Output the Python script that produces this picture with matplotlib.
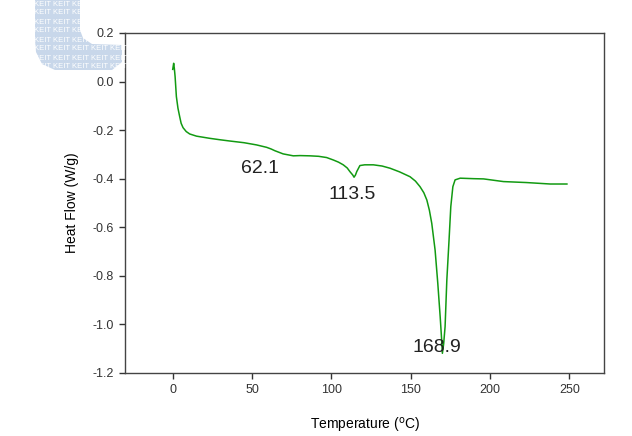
import matplotlib
matplotlib.use('Agg')
import matplotlib.pyplot as plt
from matplotlib.patches import Polygon

plt.rcParams['font.family'] = ['Liberation Sans', 'DejaVu Sans']

# DSC curve
temp = [0.0, 0.6, 1.0, 1.5, 2.3, 3.3, 4.4, 5.3, 6.5, 8.5, 10.7, 15, 23.4, 30, 36, 45,
        52.8, 59.2, 62.1, 64.4, 69.6, 76, 80.2, 86.5, 92, 97, 101.2, 104.5, 107.5, 110,
        111.7, 113.5, 114.3, 115.2, 116, 118, 121, 126.5, 132, 137, 143, 149.6, 153,
        155.9, 158.3, 160.2, 161.8, 163.3, 165.4, 167.1, 168.6, 169.5, 170.0, 170.8,
        171.7, 172.8, 174.2, 175.3, 176.6, 178, 181.2, 189.6, 196, 208.5, 223, 238, 248.5]
heat = [0.05, 0.075, 0.055, 0.02, -0.062, -0.11, -0.145, -0.172, -0.19, -0.206, -0.216,
        -0.225, -0.234, -0.24, -0.245, -0.252, -0.261, -0.271, -0.278, -0.285, -0.298,
        -0.306, -0.305, -0.306, -0.308, -0.313, -0.323, -0.332, -0.343, -0.356, -0.371,
        -0.385, -0.394, -0.385, -0.371, -0.346, -0.343, -0.343, -0.348, -0.357, -0.372,
        -0.392, -0.41, -0.433, -0.458, -0.488, -0.53, -0.584, -0.694, -0.831, -0.968,
        -1.06, -1.119, -1.08, -1.009, -0.817, -0.652, -0.515, -0.433, -0.405, -0.398,
        -0.4, -0.401, -0.412, -0.416, -0.422, -0.422]

peak_labels = ['62.1', '113.5', '168.9']
peak_x = [55, 113, 166.7]
peak_y = [-0.357, -0.467, -1.097]

W, H = 632, 436
fig = plt.figure(figsize=(W / 100, H / 100), dpi=100)

# faint "C" shaped watermark in the top-left corner (pixel outline)
wm_px = [(35, 0), (80, 0), (80, 30), (83, 38), (92, 44), (122, 45), (122, 62),
         (112, 70), (55, 70), (42, 64), (36, 52), (35, 40)]
wm = Polygon([(x / W, 1 - y / H) for x, y in wm_px], closed=True,
             transform=fig.transFigure, facecolor='#c8d7ea', edgecolor='none', zorder=0)
fig.patches.append(wm)
for yy in range(4, 70, 9):
    row = 'KEIT KEIT KEIT' if yy < 44 else 'KEIT KEIT KEIT KEIT KEIT'
    t = fig.text(34 / W, 1 - yy / H, row, fontsize=5.5,
                 color='white', va='center', zorder=1)
    t.set_clip_path(wm)

ax = fig.add_axes([0.198, 0.1445, 0.758, 0.78])
ax.plot(temp, heat, color='#129a12', lw=1.1)

for lab, xx, yy in zip(peak_labels, peak_x, peak_y):
    ax.text(xx, yy, lab, fontsize=14, ha='center', va='center', color='#222222')

ax.set_xlim(-30, 272)
ax.set_ylim(-1.2, 0.2)
ax.set_xticks([0, 50, 100, 150, 200, 250])
ax.set_yticks([0.2, 0.0, -0.2, -0.4, -0.6, -0.8, -1.0, -1.2])
ax.set_yticklabels(['0.2', '0.0', '-0.2', '-0.4', '-0.6', '-0.8', '-1.0', '-1.2'])
ax.tick_params(labelsize=9, length=4, width=1, colors='#333333', pad=4)
for s in ax.spines.values():
    s.set_color('#444444')
    s.set_linewidth(1.0)

ax.set_xlabel('Temperature ($^{\\mathrm{o}}$C)', fontsize=10, labelpad=14)
ax.set_ylabel('Heat Flow (W/g)', fontsize=10, labelpad=10)

fig.savefig('out.png', dpi=100)
